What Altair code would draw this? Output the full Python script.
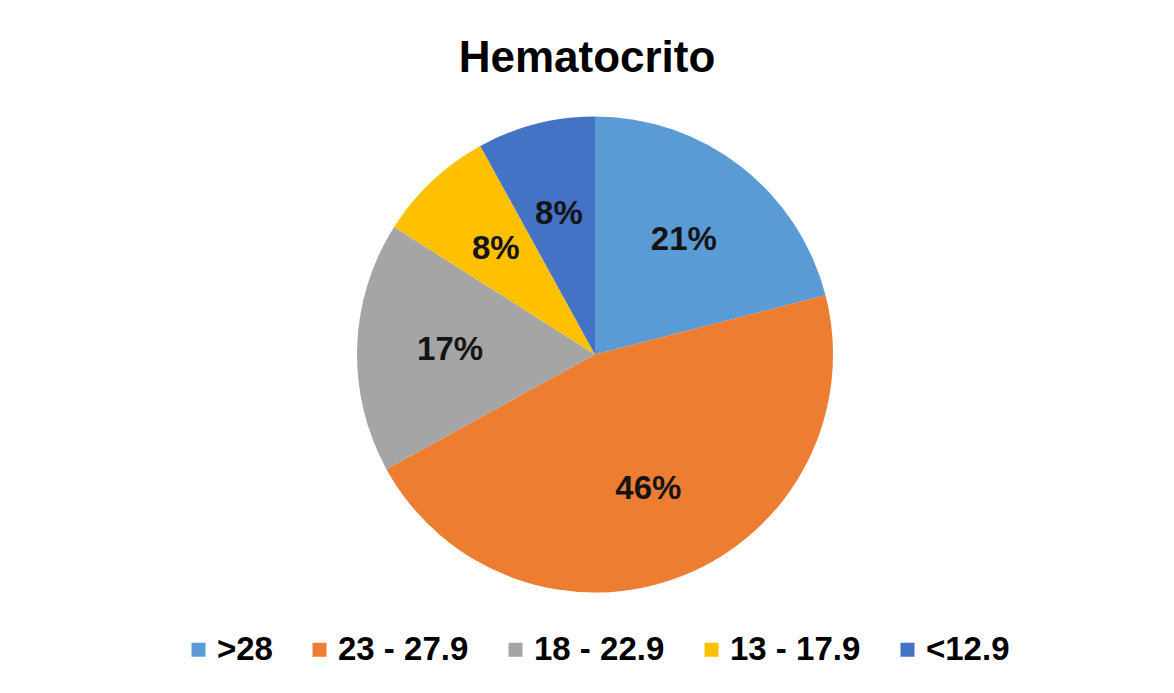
import altair as alt
import pandas as pd

categories = [">28", "23 - 27.9", "18 - 22.9", "13 - 17.9", "<12.9"]
percents = [21, 46, 17, 8, 8]
labels = ["21%", "46%", "17%", "8%", "8%"]
colors = ["#5B9BD5", "#ED7D31", "#A5A5A5", "#FFC000", "#4472C4"]

df = pd.DataFrame({
    "cat": categories,
    "pct": percents,
    "label": labels,
    "idx": list(range(len(categories))),
})

FONT = "Liberation Sans"

base = alt.Chart(df).encode(
    theta=alt.Theta("pct:Q", stack=True),
    order=alt.Order("idx:Q"),
)

pie = base.mark_arc(radius=238, xOffset=8, yOffset=8).encode(
    color=alt.Color(
        "cat:N",
        scale=alt.Scale(domain=categories, range=colors),
        sort=categories,
        legend=alt.Legend(
            title=None,
            orient="none",
            direction="horizontal",
            columns=5,
            legendX=174,
            legendY=625,
            symbolType="square",
            symbolSize=196,
            symbolStrokeWidth=0,
            labelFont=FONT,
            labelFontSize=33,
            labelFontWeight="bold",
            labelColor="#000000",
            labelOffset=2,
            columnPadding=30,
            padding=0,
        ),
    )
)

text = base.mark_text(
    radius=145, xOffset=8, yOffset=8, font=FONT, fontSize=33, fontWeight="bold",
    color="#141414",
).encode(text="label:N")

chart = (
    alt.layer(pie, text)
    .properties(
        width=1158,
        height=677,
        padding=0,
        autosize=alt.AutoSizeParams(type="none"),
        title=alt.TitleParams(
            "Hematocrito", font=FONT, fontSize=44, fontWeight="bold",
            color="#000000", anchor="middle", offset=-73,
        ),
    )
    .configure_view(stroke="#d0d0d0", strokeWidth=3)
    .configure(background="white")
)

chart.save("out.html", embed_options={"renderer": "svg", "actions": False})
